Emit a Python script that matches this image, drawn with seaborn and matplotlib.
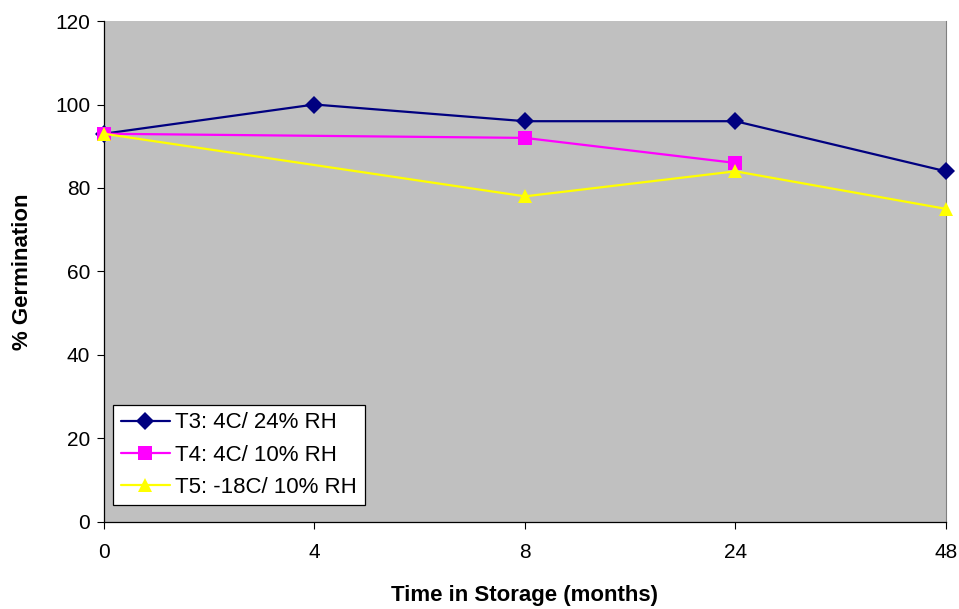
import numpy as np
import pandas as pd
import matplotlib
matplotlib.use("Agg")
import matplotlib.pyplot as plt
import seaborn as sns

# storage times (months) and % germination per treatment
months = ["0", "4", "8", "24", "48"]
t3 = [93, 100, 96, 96, 84]
t4 = [93, np.nan, 92, 86, np.nan]
t5 = [93, np.nan, 78, 84, 75]
labels = ["T3: 4C/ 24% RH", "T4: 4C/ 10% RH", "T5: -18C/ 10% RH"]

sns.set_style("ticks")
plt.rcParams["font.family"] = ["Liberation Sans", "DejaVu Sans"]
plt.rcParams.update({"text.color": "black", "axes.labelcolor": "black",
                     "xtick.color": "black", "ytick.color": "black"})

rows = []
for lab, vals in zip(labels, [t3, t4, t5]):
    for i, v in enumerate(vals):
        if not np.isnan(v):
            rows.append({"pos": i, "germ": v, "trt": lab})
df = pd.DataFrame(rows)

fig = plt.figure(figsize=(9.59, 6.09), dpi=100)
ax = fig.add_axes([0.1084, 0.1429, 0.878, 0.8226])
ax.set_facecolor("#c0c0c0")

sns.lineplot(data=df, x="pos", y="germ", hue="trt", style="trt",
             hue_order=labels, style_order=labels,
             palette=["#000080", "#ff00ff", "#ffff00"],
             markers=["D", "s", "^"], dashes=False,
             markersize=9, markeredgewidth=0, linewidth=1.6, ax=ax)

# later series drawn on top, like the original
for i, ln in enumerate(ax.lines):
    ln.set_zorder(3 + i)
    ln.set_clip_on(False)
    if ln.get_marker() in ("s", "^"):
        ln.set_markersize(10)

ax.set_xlim(0, 4)
ax.set_ylim(0, 120)
ax.set_xticks(range(len(months)))
ax.set_xticklabels(months)
ax.set_yticks(range(0, 121, 20))
ax.tick_params(labelsize=15, length=5, width=0.8, color="black", labelcolor="black")
ax.tick_params(axis="x", pad=10)
ax.tick_params(axis="y", pad=5)
ax.set_xlabel("Time in Storage (months)", fontsize=16, fontweight="bold", labelpad=17)
ax.set_ylabel("% Germination", fontsize=16, fontweight="bold", labelpad=16)

for s in ["left", "bottom"]:
    ax.spines[s].set_color("black")
    ax.spines[s].set_linewidth(0.9)
ax.spines["top"].set_visible(False)
ax.spines["right"].set_visible(True)
ax.spines["right"].set_color("#808080")

leg = ax.legend(loc="lower left", bbox_to_anchor=(0.011, 0.033), fontsize=16,
                frameon=True, fancybox=False, edgecolor="black",
                handlelength=2.2, borderpad=0.35, labelspacing=0.5,
                handletextpad=0.25, borderaxespad=0)
leg.get_frame().set_facecolor("white")
leg.get_frame().set_linewidth(0.9)
leg.get_frame().set_alpha(1)
leg.set_zorder(10)

fig.savefig("out.png", dpi=100)
